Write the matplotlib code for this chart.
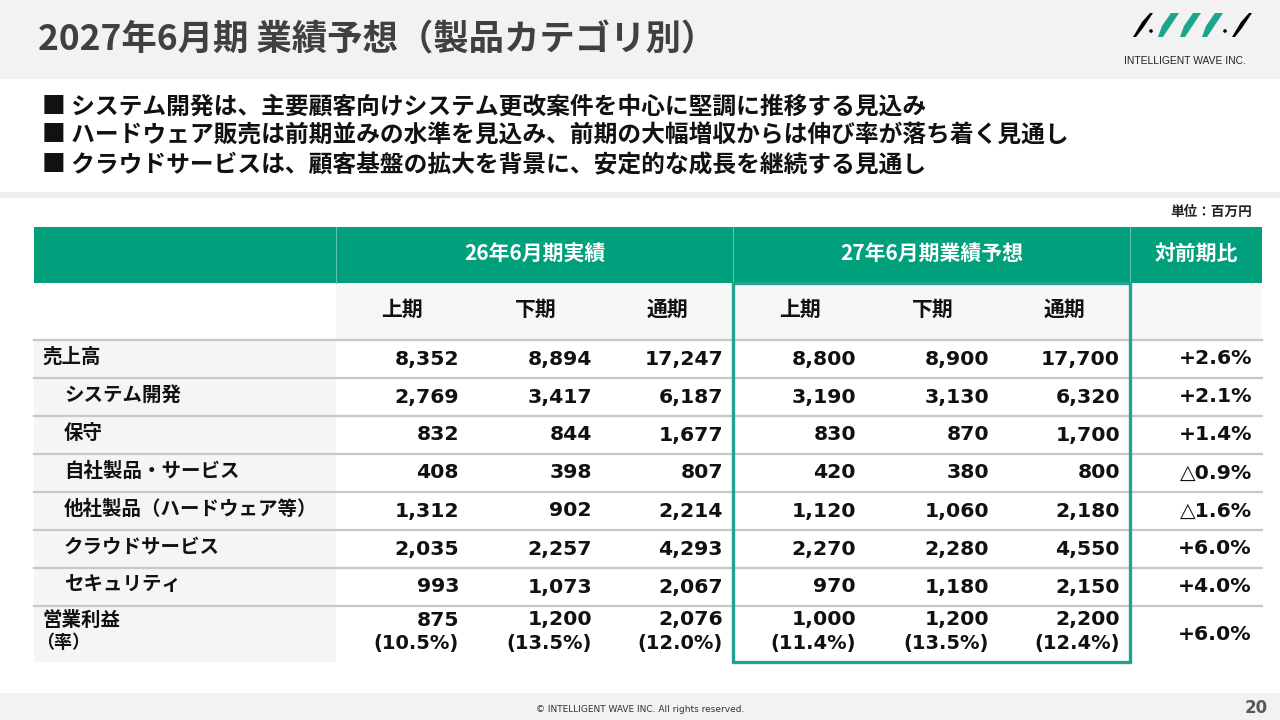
import matplotlib
matplotlib.use("Agg")
import matplotlib.pyplot as plt
from matplotlib.patches import Rectangle, Polygon, Circle

plt.rcParams['font.family'] = ['Noto Sans CJK JP', 'DejaVu Sans']

# ---------------- data ----------------
title = "2027年6月期 業績予想（製品カテゴリ別）"
bullets = [
    "■ システム開発は、主要顧客向けシステム更改案件を中心に堅調に推移する見込み",
    "■ ハードウェア販売は前期並みの水準を見込み、前期の大幅増収からは伸び率が落ち着く見通し",
    "■ クラウドサービスは、顧客基盤の拡大を背景に、安定的な成長を継続する見通し",
]
unit_label = "単位：百万円"
group_headers = ["26年6月期実績", "27年6月期業績予想", "対前期比"]
period_headers = ["上期", "下期", "通期", "上期", "下期", "通期"]
categories = ["売上高", "システム開発", "保守", "自社製品・サービス",
              "他社製品（ハードウェア等）", "クラウドサービス", "セキュリティ", "営業利益"]
indented = [False, True, True, True, True, True, True, False]
fy26_h1 = [8352, 2769, 832, 408, 1312, 2035, 993, 875]
fy26_h2 = [8894, 3417, 844, 398, 902, 2257, 1073, 1200]
fy26_full = [17247, 6187, 1677, 807, 2214, 4293, 2067, 2076]
fy27_h1 = [8800, 3190, 830, 420, 1120, 2270, 970, 1000]
fy27_h2 = [8900, 3130, 870, 380, 1060, 2280, 1180, 1200]
fy27_full = [17700, 6320, 1700, 800, 2180, 4550, 2150, 2200]
yoy = ["+2.6%", "+2.1%", "+1.4%", "△0.9%", "△1.6%", "+6.0%", "+4.0%", "+6.0%"]
margin26 = ["(10.5%)", "(13.5%)", "(12.0%)"]
margin27 = ["(11.4%)", "(13.5%)", "(12.4%)"]
margin_label = "（率）"
copyright_text = "© INTELLIGENT WAVE INC. All rights reserved."
page_no = "20"
logo_text = "INTELLIGENT WAVE INC."

# ---------------- layout ----------------
GREEN = "#00A07D"
BOX = "#22A391"
LINE = "#C8C8C8"
LIGHT = "#F5F5F5"

fig = plt.figure(figsize=(12.8, 7.2), dpi=100)
ax = fig.add_axes([0, 0, 1, 1])
ax.set_xlim(0, 1280)
ax.set_ylim(720, 0)
ax.axis("off")

def rect(x0, y0, x1, y1, color, z=1):
    ax.add_patch(Rectangle((x0, y0), x1 - x0, y1 - y0, facecolor=color,
                           edgecolor="none", zorder=z))

# title band
rect(0, 0, 1280, 79, "#F2F2F2", 0)
ax.text(38, 40, title, fontsize=25.5, fontweight="bold", color="#404040",
        va="center", ha="left")

# logo
ax.add_patch(Polygon([(1133, 37), (1136, 37), (1143, 28), (1153, 13), (1150, 13), (1142, 22)],
                     closed=True, facecolor="black", edgecolor="none", zorder=3))
ax.add_patch(Polygon([(1232, 37), (1235, 37), (1242, 28), (1252, 13), (1249, 13), (1241, 22)],
                     closed=True, facecolor="black", edgecolor="none", zorder=3))
for cx in (1151, 1225):
    ax.add_patch(Circle((cx, 31), 1.8, facecolor="black", edgecolor="none", zorder=3))
for x0 in (1158, 1180, 1202):
    ax.add_patch(Polygon([(x0, 37), (x0 + 5, 37), (x0 + 21, 13), (x0 + 13, 13), (x0 + 4, 26)],
                         closed=True, facecolor="#1BA58E", edgecolor="none", zorder=3))
ax.text(1185, 61, logo_text, fontsize=7.4, family="Liberation Sans", color="#222222",
        ha="center", va="center")

# bullets
for i, b in enumerate(bullets):
    ax.text(42, 107 + i * 29, b, fontsize=17.1, fontweight="bold", color="#111111",
            ha="left", va="center")

# separator band
rect(0, 192, 1280, 198, "#EDEDED", 0)

ax.text(1252, 212, unit_label, fontsize=9.8, fontweight="bold", color="#222222",
        ha="right", va="center")

# table geometry
col_edges = [34, 336, 469, 602, 733, 866, 999, 1130, 1262]
h1_top, h1_bot = 227, 283
h2_bot = 340
row_tops = [340, 378, 416, 454, 492, 530, 568, 606]
row_bots = [378, 416, 454, 492, 530, 568, 606, 662]

# header row 1
rect(col_edges[0], h1_top, col_edges[-1], h1_bot, GREEN, 1)
for xe in (col_edges[1], col_edges[4], col_edges[7]):
    ax.plot([xe, xe], [h1_top, h1_bot], color="#5CC4AE", lw=0.8, zorder=2)
grp_spans = [(col_edges[1], col_edges[4]), (col_edges[4], col_edges[7]),
             (col_edges[7], col_edges[8])]
for (a, b), g in zip(grp_spans, group_headers):
    ax.text((a + b) / 2, 253, g, fontsize=15, fontweight="bold", color="white",
            ha="center", va="center", zorder=3)

# header row 2
rect(col_edges[1], h1_bot, col_edges[-1], h2_bot, "#F7F7F7", 1)
for j, p in enumerate(period_headers):
    cx = (col_edges[j + 1] + col_edges[j + 2]) / 2
    ax.text(cx, 309, p, fontsize=15, fontweight="bold", color="#111111",
            ha="center", va="center", zorder=3)

# label column background for data rows
rect(col_edges[0], row_tops[0], col_edges[1], row_bots[-1], LIGHT, 1)

# row lines
for y in row_tops:
    ax.plot([col_edges[0], col_edges[-1]], [y, y], color=LINE, lw=1.6, zorder=2)

num_font = dict(fontsize=14.7, fontweight="bold", color="#111111",
                family=["DejaVu Sans", "Noto Sans CJK JP"], zorder=3)
margin_font = dict(num_font, fontsize=14)
series = [fy26_h1, fy26_h2, fy26_full, fy27_h1, fy27_h2, fy27_full]
n = len(categories)
for i, cat in enumerate(categories):
    top, bot = row_tops[i], row_bots[i]
    last = (i == n - 1)
    cy = (top + bot) / 2
    lx = 64 if indented[i] else 42
    ly = 620 if last else cy - 2
    ax.text(lx, ly, cat, fontsize=14, fontweight="bold", color="#111111",
            ha="left", va="center", zorder=3)
    for j, s in enumerate(series):
        xr = col_edges[j + 2] - 10
        ny = 620 if last else cy
        ax.text(xr, ny, f"{s[i]:,}", ha="right", va="center", **num_font)
    ax.text(col_edges[8] - 10, cy, yoy[i], ha="right", va="center", **num_font)

# margins in last row
ax.text(36, 643, margin_label, fontsize=13, fontweight="bold", color="#111111",
        ha="left", va="center", zorder=3)
for j, m in enumerate(margin26 + margin27):
    ax.text(col_edges[j + 2] - 10, 643, m, ha="right", va="center", **margin_font)

# forecast box
ax.add_patch(Rectangle((col_edges[4], h1_bot), col_edges[7] - col_edges[4],
                       row_bots[-1] - h1_bot, facecolor="none", edgecolor=BOX,
                       lw=2.4, zorder=4))

# footer
rect(0, 693, 1280, 720, "#F2F2F2", 0)
ax.text(640, 709, copyright_text, fontsize=6.5, color="#333333",
        ha="center", va="center", family=["DejaVu Sans"])
ax.text(1268, 708, page_no, fontsize=12, fontweight="bold", color="#595959",
        ha="right", va="center", family=["DejaVu Sans"])

fig.savefig("out.png", dpi=100)
